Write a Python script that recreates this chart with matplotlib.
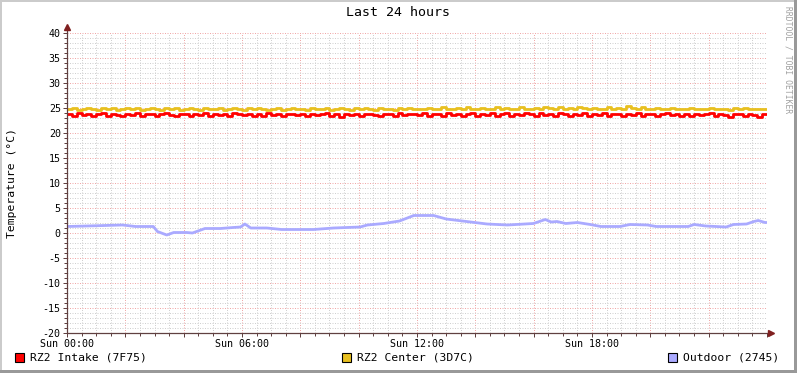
import numpy as np
import matplotlib
matplotlib.use("Agg")
import matplotlib.pyplot as plt
from matplotlib.patches import Rectangle
from matplotlib.ticker import MultipleLocator

plt.rcParams['font.family'] = ['DejaVu Sans Mono']

# ---- data ----
title = "Last 24 hours"
y_label = "Temperature (°C)"
x_tick_hours = [0, 6, 12, 18]
x_tick_labels = ["Sun 00:00", "Sun 06:00", "Sun 12:00", "Sun 18:00"]
series_names = ["RZ2 Intake (7F75)", "RZ2 Center (3D7C)", "Outdoor (2745)"]
series_colors = ["#ff0000", "#e8c020", "#aaaaff"]

# 10 minute samples, 144 per day
intake = [
    23.8, 23.5, 24.0, 23.6, 23.9, 23.4, 23.8, 24.0, 23.5, 23.9, 23.7, 23.4,
    23.9, 23.6, 24.0, 23.5, 23.8, 23.9, 23.4, 23.8, 24.0, 23.6, 23.5, 23.9,
    23.8, 23.4, 23.9, 23.6, 24.0, 23.5, 23.8, 23.6, 23.9, 23.5, 24.0, 23.8,
    23.6, 23.9, 23.5, 23.8, 23.4, 24.0, 23.6, 23.9, 23.5, 23.8, 23.9, 23.6,
    23.8, 23.5, 23.9, 23.6, 23.8, 24.0, 23.5, 23.9, 23.2, 23.8, 23.6, 23.9,
    23.5, 23.8, 23.9, 23.6, 23.4, 23.9, 23.8, 23.5, 24.0, 23.6, 23.8, 23.9,
    23.6, 24.0, 23.5, 23.9, 23.8, 23.4, 24.0, 23.6, 23.9, 23.5, 23.8, 24.0,
    23.5, 23.9, 23.6, 24.1, 23.5, 23.8, 24.0, 23.4, 23.9, 23.6, 24.0, 23.8,
    23.5, 24.0, 23.6, 23.9, 23.4, 24.1, 23.8, 23.5, 23.9, 23.6, 24.0, 23.5,
    23.9, 23.6, 24.0, 23.5, 23.8, 23.9, 23.4, 23.9, 23.6, 24.0, 23.5, 23.8,
    23.9, 23.5, 23.8, 24.0, 23.6, 23.9, 23.5, 23.8, 23.4, 23.9, 23.6, 23.8,
    24.0, 23.5, 23.9, 23.6, 23.3, 23.9, 23.8, 23.5, 23.9, 23.6, 23.2, 23.8,
]
center = [
    24.8, 25.0, 24.7, 24.8, 25.1, 24.8, 24.7, 25.0, 24.8, 25.1, 24.7, 24.8,
    25.0, 24.8, 25.1, 24.7, 24.8, 25.0, 24.8, 24.7, 25.1, 24.8, 25.0, 24.7,
    24.8, 25.1, 24.8, 24.7, 25.0, 24.8, 24.8, 25.1, 24.7, 24.8, 25.0, 24.8,
    24.7, 25.0, 24.8, 25.1, 24.8, 24.7, 24.8, 25.0, 24.7, 24.8, 25.1, 24.8,
    24.8, 24.7, 25.0, 24.8, 24.8, 25.1, 24.7, 24.8, 25.0, 24.8, 24.7, 25.0,
    24.8, 25.1, 24.8, 24.7, 25.0, 24.8, 24.8, 24.7, 25.1, 24.8, 25.0, 24.8,
    24.9, 24.8, 25.1, 24.8, 24.9, 25.2, 24.8, 24.9, 25.1, 24.8, 25.2, 24.9,
    24.8, 25.1, 24.9, 24.8, 25.2, 24.9, 25.1, 24.8, 24.9, 25.2, 24.8, 24.9,
    25.1, 24.9, 25.2, 25.0, 24.8, 25.2, 24.9, 25.1, 24.8, 25.2, 25.0, 24.9,
    25.1, 24.8, 24.9, 25.2, 24.8, 25.1, 24.9, 25.4, 25.0, 24.9, 25.2, 24.8,
    24.9, 25.1, 24.8, 24.9, 25.1, 24.8, 24.9, 24.8, 25.1, 24.9, 24.8, 24.9,
    25.1, 24.8, 24.9, 24.8, 24.7, 25.0, 24.8, 25.1, 24.8, 24.9, 24.8, 24.8,
]
sample_hours = [i / 6 for i in range(len(intake))]

outdoor_hours = [0.0, 1.0, 1.9, 2.35, 2.96, 3.1, 3.42, 3.66, 4.1, 4.3, 4.73,
                 5.26, 5.7, 5.95, 6.1, 6.3, 6.85, 7.36, 8.45, 9.14, 10.05,
                 10.3, 10.86, 11.4, 11.89, 12.57, 13.0, 13.7, 14.4, 15.1,
                 15.99, 16.4, 16.6, 16.8, 17.1, 17.5, 17.94, 18.3, 18.96,
                 19.3, 19.9, 20.2, 21.3, 21.5, 21.9, 22.6, 22.85, 23.3,
                 23.55, 23.7, 23.93, 24.0]
outdoor = [1.3, 1.45, 1.6, 1.3, 1.3, 0.3, -0.4, 0.1, 0.1, 0.0, 0.9,
           0.9, 1.1, 1.2, 1.8, 1.0, 1.0, 0.7, 0.7, 1.0, 1.2,
           1.6, 1.9, 2.4, 3.5, 3.5, 2.8, 2.3, 1.8, 1.6,
           1.9, 2.7, 2.2, 2.3, 1.9, 2.1, 1.7, 1.3, 1.3,
           1.7, 1.6, 1.3, 1.3, 1.7, 1.4, 1.2, 1.7, 1.8,
           2.3, 2.5, 2.1, 2.1]

W, H = 797, 373
fig = plt.figure(figsize=(W / 100, H / 100), dpi=100)
fig.patch.set_facecolor("white")
ax = fig.add_axes([67 / W, 1 - 333 / H, 700 / W, 300 / H])
ax.set_facecolor("white")

ax.set_xlim(0, 24)
ax.set_ylim(-20, 40)

# grid
ax.xaxis.set_major_locator(MultipleLocator(2))
ax.xaxis.set_minor_locator(MultipleLocator(0.5))
ax.yaxis.set_major_locator(MultipleLocator(5))
ax.yaxis.set_minor_locator(MultipleLocator(1))
ax.xaxis.set_major_formatter(plt.FuncFormatter(
    lambda v, p: x_tick_labels[x_tick_hours.index(int(round(v)))] if round(v) in x_tick_hours else ""))
ax.yaxis.set_major_formatter(plt.FuncFormatter(lambda v, p: "%d" % v))
ax.grid(which="minor", color="#d0d0d0", linestyle=(0, (1, 1.5)), linewidth=0.72)
ax.grid(which="major", color="#f0a8a8", linestyle=(0, (1, 1.5)), linewidth=0.72)
ax.set_axisbelow(True)

for s in ax.spines.values():
    s.set_visible(False)
ax.tick_params(which="both", color="#604040", width=0.72, labelsize=7.2,
               pad=1.5, labelcolor="black")
ax.tick_params(which="major", length=3)
ax.tick_params(which="minor", length=2)

# series
ax.step(sample_hours + [24], intake + intake[-1:], where="post",
        color=series_colors[0], lw=2.0, zorder=3)
ax.step(sample_hours + [24], center + center[-1:], where="post",
        color=series_colors[1], lw=2.0, zorder=2)
ax.plot(outdoor_hours, outdoor, color=series_colors[2], lw=2.0, zorder=3)

# axes with arrows
ax.plot([0, 24.15], [-20, -20], color="#604040", lw=0.9, clip_on=False, zorder=4)
ax.plot([0, 0], [-20, 41.2], color="#604040", lw=0.9, clip_on=False, zorder=4)
ax.plot([24.15], [-20], marker=">", color="#802020", ms=4, clip_on=False, zorder=5)
ax.plot([0], [41.2], marker="^", color="#802020", ms=4, clip_on=False, zorder=5)

# texts
fig.text(0.5, 1 - 13 / H, title, ha="center", va="center", fontsize=9.5)
fig.text(12 / W, 1 - 183 / H, y_label, rotation=90, ha="center", va="center", fontsize=8.2)
fig.text(788 / W, 1 - 60 / H, "RRDTOOL / TOBI OETIKER", rotation=270, ha="center",
         va="center", fontsize=5.8, color="#a0a0a0")

# legend
legend_x = [15, 342, 668]
for name, col, lx in zip(series_names, series_colors, legend_x):
    fig.patches.append(Rectangle((lx / W, 1 - 362 / H), 9 / W, 9 / H,
                                 transform=fig.transFigure, facecolor=col,
                                 edgecolor="black", lw=0.8))
    fig.text((lx + 15) / W, 1 - 358 / H, name, ha="left", va="center", fontsize=8.2)

# frame shading
fig.patches.append(Rectangle((0, 0), 2 / W, 1, transform=fig.transFigure,
                             facecolor="#cbcbcb", edgecolor="none"))
fig.patches.append(Rectangle((0, 1 - 2 / H), 1, 2 / H, transform=fig.transFigure,
                             facecolor="#cbcbcb", edgecolor="none"))
fig.patches.append(Rectangle((1 - 3 / W, 0), 3 / W, 1, transform=fig.transFigure,
                             facecolor="#999999", edgecolor="none"))
fig.patches.append(Rectangle((0, 0), 1, 3 / H, transform=fig.transFigure,
                             facecolor="#999999", edgecolor="none"))

fig.savefig("out.png", dpi=100)
